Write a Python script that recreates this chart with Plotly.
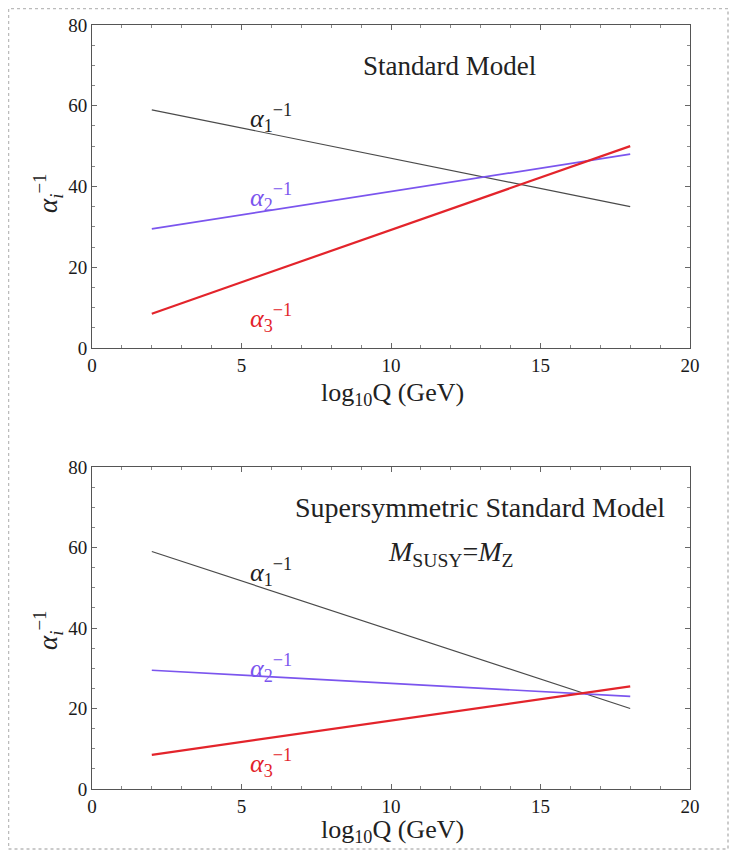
import plotly.graph_objects as go

# ---- data ----
log10Q = [2, 18]
sm_alpha1 = [59.0, 35.0]
sm_alpha2 = [29.5, 48.0]
sm_alpha3 = [8.5, 50.0]
susy_alpha1 = [59.0, 20.0]
susy_alpha2 = [29.5, 23.0]
susy_alpha3 = [8.5, 25.5]
x_ticks = [0, 5, 10, 15, 20]
y_ticks = [0, 20, 40, 60, 80]

BLACK = "#4a4a4a"
PURPLE = "#7b55ee"
RED = "#e3242b"
FONT = "Liberation Serif"

W, H = 721, 842  # page body adds an 8px margin
OFF = 8


def px(sx):
    return (sx - OFF) / W


def py(sy):
    return 1 - (sy - OFF) / H


fig = go.Figure()


def add_panel(xa, ya, a1, a2, a3):
    fig.add_trace(go.Scatter(x=log10Q, y=a1, mode="lines", line=dict(color=BLACK, width=1.2),
                             xaxis=xa, yaxis=ya, showlegend=False))
    fig.add_trace(go.Scatter(x=log10Q, y=a2, mode="lines", line=dict(color=PURPLE, width=1.7),
                             xaxis=xa, yaxis=ya, showlegend=False))
    fig.add_trace(go.Scatter(x=log10Q, y=a3, mode="lines", line=dict(color=RED, width=2.2),
                             xaxis=xa, yaxis=ya, showlegend=False))


add_panel("x", "y", sm_alpha1, sm_alpha2, sm_alpha3)
add_panel("x2", "y2", susy_alpha1, susy_alpha2, susy_alpha3)

xdom = [px(92), px(690)]
top_dom = [py(348), py(25)]
bot_dom = [py(789), py(467)]

axis_common = dict(
    showgrid=False, zeroline=False, showline=True, linecolor="#555", linewidth=1,
    mirror="allticks", ticks="inside", ticklen=5, tickcolor="#666", tickwidth=1,
    tickfont=dict(family=FONT, size=19, color="#1a1a1a"),
)
xcommon = dict(axis_common, range=[0, 20], tickvals=x_ticks,
               minor=dict(dtick=1, ticks="inside", ticklen=3, tickcolor="#888"))
ycommon = dict(axis_common, range=[0, 80], tickvals=y_ticks,
               minor=dict(dtick=5, ticks="inside", ticklen=3, tickcolor="#888"))

fig.update_layout(
    width=W, height=H,
    margin=dict(l=0, r=0, t=0, b=0, autoexpand=False),
    paper_bgcolor="white", plot_bgcolor="white",
    xaxis=dict(xcommon, domain=xdom, anchor="y"),
    yaxis=dict(ycommon, domain=top_dom, anchor="x"),
    xaxis2=dict(xcommon, domain=xdom, anchor="y2"),
    yaxis2=dict(ycommon, domain=bot_dom, anchor="x2"),
)

ann = []


def label(x, y, text, color, xr, yr, size=27):
    ann.append(dict(x=x, y=y, xref=xr, yref=yr, text=text, showarrow=False,
                    xanchor="center", yanchor="middle",
                    font=dict(family=FONT, size=size, color=color)))


A1 = "<i>α</i><sub>1</sub><sup>−1</sup>"
A2 = "<i>α</i><sub>2</sub><sup>−1</sup>"
A3 = "<i>α</i><sub>3</sub><sup>−1</sup>"

# top panel texts
label(11.97, 69.8, "Standard Model", "#222", "x", "y", 27)
label(5.97, 57.0, A1, "#222", "x", "y", 26)
label(5.97, 37.5, A2, PURPLE, "x", "y", 26)
label(5.97, 7.5, A3, RED, "x", "y", 26)
# bottom panel texts
label(12.99, 69.9, "Supersymmetric Standard Model", "#222", "x2", "y2", 28)
label(12.0, 58.4, "<i>M</i><sub>SUSY</sub>=<i>M</i><sub>Z</sub>", "#222", "x2", "y2", 28)
label(5.97, 54.0, A1, "#222", "x2", "y2", 26)
label(5.97, 30.0, A2, PURPLE, "x2", "y2", 26)
label(5.97, 6.5, A3, RED, "x2", "y2", 26)

# axis titles
for ycen_px, xlab_px in [(193, 394), (630, 831)]:
    ann.append(dict(x=px(48), y=py(ycen_px), xref="paper", yref="paper",
                    xanchor="center", yanchor="middle",
                    text="<i>α</i><sub><i>i</i></sub><sup>−1</sup>", textangle=-90, showarrow=False,
                    font=dict(family=FONT, size=27, color="#222")))
    ann.append(dict(x=px(392), y=py(xlab_px), xref="paper", yref="paper",
                    xanchor="center", yanchor="middle",
                    text="log<sub>10</sub>Q (GeV)", showarrow=False,
                    font=dict(family=FONT, size=26, color="#222")))
fig.update_layout(annotations=ann)

# dotted page border
fig.add_shape(type="rect", xref="paper", yref="paper",
              x0=0.5 / W, x1=(W - 1) / W, y0=1 / H, y1=1 - 0.5 / H,
              line=dict(color="#bbb", width=1.5, dash="dot"))

fig.write_html("out.html")
